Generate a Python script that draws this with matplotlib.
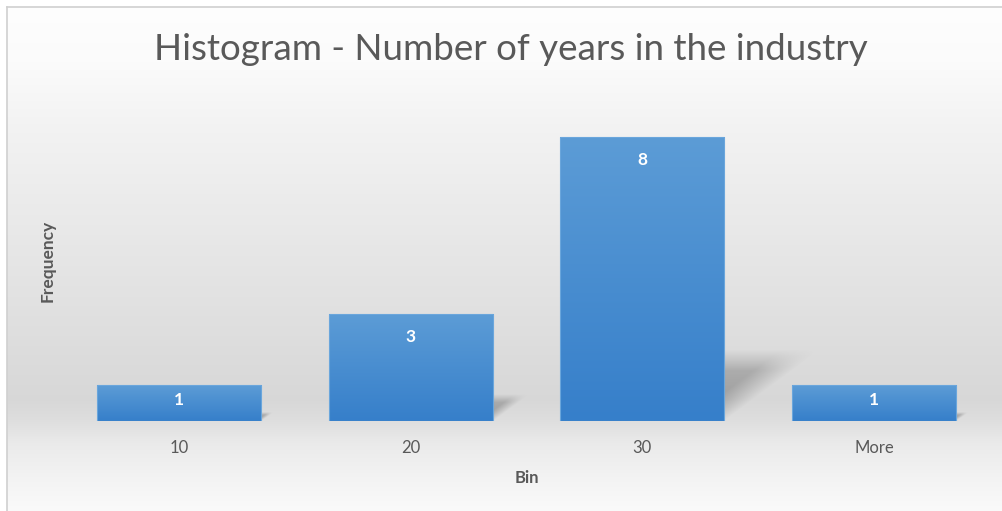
import matplotlib
matplotlib.use("Agg")
import matplotlib.pyplot as plt
import numpy as np
from matplotlib.patches import Polygon

# histogram of years in the industry
bins = ["10", "20", "30", "More"]
frequency = [1, 3, 8, 1]

plt.rcParams['font.family'] = ['Lato', 'DejaVu Sans']

W, H = 1002, 511
fig = plt.figure(figsize=(W / 100, H / 100), dpi=100)
fig.patch.set_facecolor('white')

# chart area background: vertical grey gradient, border on top/left
bg = fig.add_axes([7 / W, 0, 1 - 7 / W, 1 - 7 / H], zorder=0)
ys = np.linspace(0, 1, 400)  # 0 = top of chart area
stops_y = np.array([7, 60, 130, 300, 400, 420, 445, 480, 511])
stops_v = np.array([0.995, 0.985, 0.95, 0.885, 0.845, 0.87, 0.92, 0.955, 0.98])
grey = np.interp(7 + ys * (H - 7), stops_y, stops_v)
img = np.repeat(grey[:, None], 2, axis=1)
bg.imshow(np.dstack([img, img, img]), aspect='auto', extent=[0, 1, 0, 1],
          interpolation='bilinear')
bg.set_xlim(0, 1)
bg.set_ylim(0, 1)
bg.set_xticks([])
bg.set_yticks([])
for s in ['right', 'bottom']:
    bg.spines[s].set_visible(False)
for s in ['left', 'top']:
    bg.spines[s].set_color('#d0d0d0')
    bg.spines[s].set_linewidth(1.2)

ax = fig.add_axes([63 / W, (H - 421) / H, (990 - 63) / W, (421 - 101) / H], zorder=1)
ax.patch.set_alpha(0)
x = np.arange(len(bins))
width = 0.708
bars = ax.bar(x, frequency, width=width, color='none', edgecolor='none')
ax.set_xlim(-0.5, len(bins) - 0.5)
ax.set_ylim(0, 9)

# bar gradient (light top -> darker bottom)
top_c = np.array([92, 156, 214]) / 255
bot_c = np.array([54, 127, 202]) / 255
t = np.linspace(0, 1, 100)[:, None]
grad = (1 - t) * top_c + t * bot_c
grad = np.repeat(grad[:, None, :], 2, axis=1)

px_x = ax.bbox.width / (len(bins))
px_y = ax.bbox.height / 9

for b in bars:
    x0, h = b.get_x(), b.get_height()
    x1 = x0 + b.get_width()
    # perspective shadow to the right
    dy = 0.25 * h
    dx = 0.34 * h * px_y / px_x
    nx, ny = 80, 80
    ss, tt = np.meshgrid(np.linspace(0, 1, nx), np.linspace(0, 1, ny))
    alpha = np.clip((tt - ss) / 0.4, 0, 1) * np.clip((1 - tt) / 0.3, 0, 1)
    alpha *= (1 - 0.4 * tt) * 0.5
    sh = np.zeros((ny, nx, 4))
    sh[..., :3] = 0.35
    sh[..., 3] = alpha
    ax.imshow(sh, origin='lower', extent=[x1, x1 + dx, 0, dy], aspect='auto',
              interpolation='bilinear', zorder=1)
    # bar body
    im = ax.imshow(grad, extent=[x0, x1, 0, h], aspect='auto', zorder=2,
                   interpolation='bilinear')
    im.set_clip_path(b)
    ax.add_patch(Polygon([[x0, 0], [x1, 0], [x1, h], [x0, h]], closed=True,
                         fill=False, edgecolor='#6aa6dc', linewidth=0.8, zorder=3))
    off = min(23, 0.4 * h * px_y)
    ax.annotate(str(int(h)), (x0 + b.get_width() / 2, h), xytext=(0, -off),
                textcoords='offset pixels', ha='center', va='center',
                color='white', fontsize=12.5, fontweight='bold', zorder=4)

ax.set_xlim(-0.5, len(bins) - 0.5)
ax.set_ylim(0, 9)
ax.set_xticks(x)
ax.set_xticklabels(bins, fontsize=12, color='#595959')
ax.set_yticks([])
ax.tick_params(axis='x', length=0, pad=14)
for s in ax.spines.values():
    s.set_visible(False)

fig.text(527 / W, 1 - 478 / H, "Bin", ha='center', va='center', fontsize=12,
         fontweight='bold', color='#595959')
fig.text(48 / W, 1 - 261 / H, "Frequency", ha='center', va='center', fontsize=12.5,
         fontweight='bold', color='#595959', rotation=90)
fig.text(511 / W, 1 - 49 / H, "Histogram - Number of years in the industry",
         ha='center', va='center', fontsize=26.5, color='#595959')

fig.savefig('out.png', dpi=100)
